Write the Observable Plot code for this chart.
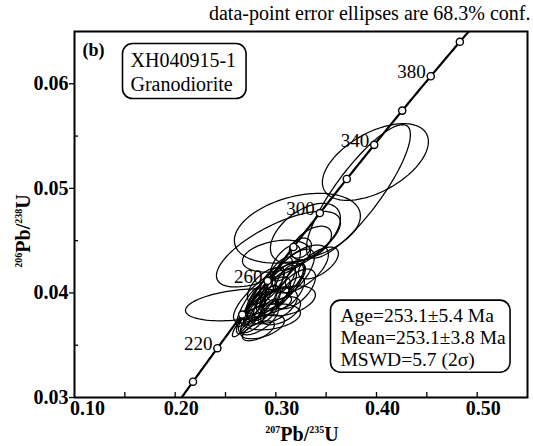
<!DOCTYPE html>
<html>
<head>
<meta charset="utf-8">
<script src="https://cdn.jsdelivr.net/npm/d3@7"></script>
<script src="https://cdn.jsdelivr.net/npm/@observablehq/plot@0.6"></script>
<style>
  body { margin: 0; background: #fff; }
</style>
</head>
<body>
<div id="chart"></div>
<script>
// Decay constants (per year) for the Wetherill concordia
const L238 = 1.55125e-10;
const L235 = 9.8485e-10;

// Concordia age marks (Ma) and the ones that carry a label
const markedAges = [200, 220, 240, 260, 280, 300, 320, 340, 360, 380, 400];
const labeledAges = [220, 260, 300, 340, 380];

// Zircon spot analyses: 207Pb/235U, 206Pb/238U, 1-sigma errors, error correlation
const spot = ["1","2","3","4","5","6","7","8","9","10","11","12","13","14","15","16","17","18","19","20",
  "21","22","23","24","25","26","27","28","29","30","31","32","33","34","35","36","37","38","39","40","41","42","43"];
const ratio207 = [0.3989, 0.3820, 0.3214, 0.3294, 0.3026, 0.2629, 0.3006, 0.3354, 0.3244, 0.3423, 0.2927,
  0.2668, 0.2748, 0.2827, 0.2867, 0.2927, 0.2966, 0.2847, 0.3006, 0.3066, 0.2897, 0.3115, 0.3145, 0.3244,
  0.2797, 0.2946, 0.2728, 0.3026, 0.3195, 0.2867, 0.3095, 0.2827, 0.3046, 0.3145, 0.2966,
  0.2797, 0.2897, 0.2996, 0.3095, 0.2768, 0.2927, 0.3195, 0.2867];
const ratio206 = [0.05252, 0.04971, 0.04619, 0.04571, 0.04419, 0.03886, 0.04352, 0.04476, 0.04429, 0.04286, 0.04000,
  0.03695, 0.03781, 0.03752, 0.03876, 0.03943, 0.03876, 0.03971, 0.04019, 0.04076, 0.04067, 0.03924, 0.04171, 0.04229,
  0.03905, 0.03771, 0.03867, 0.04171, 0.04038, 0.03676, 0.04286, 0.03638, 0.03829, 0.04000, 0.04114,
  0.03829, 0.03924, 0.03943, 0.04133, 0.03714, 0.03829, 0.04162, 0.04019];
const err207 = [0.03474, 0.03409, 0.04130, 0.02294, 0.04064, 0.03474, 0.02229, 0.01311, 0.00721, 0.01311, 0.02294,
  0.00656, 0.00918, 0.01311, 0.01180, 0.01442, 0.01639, 0.00983, 0.01311, 0.01442, 0.01180, 0.01835, 0.01573, 0.01835,
  0.00787, 0.01967, 0.00787, 0.00918, 0.01311, 0.01442, 0.00983, 0.01049, 0.01311, 0.00918, 0.00787,
  0.00656, 0.00787, 0.00918, 0.00656, 0.00787, 0.00656, 0.00656, 0.00656];
const err206 = [0.002420, 0.004212, 0.002200, 0.001886, 0.002389, 0.001006, 0.001006, 0.001069, 0.000629, 0.001006, 0.001886,
  0.000754, 0.001132, 0.001006, 0.001257, 0.001383, 0.001132, 0.001257, 0.001383, 0.001509, 0.001132, 0.000943, 0.001635, 0.001509,
  0.001383, 0.000817, 0.001257, 0.001132, 0.001257, 0.000754, 0.001132, 0.000629, 0.000880, 0.001006, 0.000880,
  0.000880, 0.001006, 0.000754, 0.000880, 0.000629, 0.000754, 0.000754, 0.000880];
const rho = [0.53, 0.85, 0.35, 0.50, 0.70, 0.35, 0.30, 0.50, 0.30, 0.60, 0.80,
  0.85, 0.80, 0.60, 0.70, 0.70, 0.50, 0.80, 0.75, 0.70, 0.60, 0.40, 0.70, 0.60,
  0.85, 0.30, 0.85, 0.70, 0.60, 0.50, 0.60, 0.60, 0.50, 0.70, 0.60,
  0.80, 0.80, 0.60, 0.70, 0.70, 0.70, 0.60, 0.80];

// Axis ticks
const xLabelTicks = [0.20, 0.30, 0.40, 0.50];
const xCornerTick = [0.10];
const xTickMarks = [0.15, 0.20, 0.25, 0.30, 0.35, 0.40, 0.45, 0.50];
const yLabelTicks = [0.03, 0.04, 0.05, 0.06];
const yMinorTicks = [0.035, 0.045, 0.055];

// Texts
const caption = "data-point error ellipses are 68.3% conf.";
const panelTag = "(b)";
const sampleLines = ["XH040915-1", "Granodiorite"];
const resultLines = ["Age=253.1±5.4 Ma", "Mean=253.1±3.8 Ma", "MSWD=5.7 (2σ)"];

// Concordia point for an age in Ma
const concordia = t => ({t, x: Math.expm1(L235 * t * 1e6), y: Math.expm1(L238 * t * 1e6)});
const curve = d3.range(180, 441, 1).map(concordia);

// 68.3% confidence ellipse outline for each analysis (2 degrees of freedom)
const K = Math.sqrt(-2 * Math.log(1 - 0.683));
const ellipsePts = spot.flatMap((id, i) => d3.range(0, 361, 4).map(a => {
  const th = a * Math.PI / 180;
  const r = rho[i];
  return {
    id,
    x: ratio207[i] + K * err207[i] * Math.cos(th),
    y: ratio206[i] + K * err206[i] * (r * Math.cos(th) + Math.sqrt(1 - r * r) * Math.sin(th))
  };
}));

const fmt = d3.format(".2f");
const tickFont = {fontSize: 20, fontWeight: "bold", label: null};

const svg = Plot.plot({
  width: 533,
  height: 446,
  marginLeft: 74,
  marginRight: 6,
  marginTop: 31,
  marginBottom: 49,
  x: {domain: [0.10, 0.55], label: null},
  y: {domain: [0.03, 0.065], label: null},
  style: {fontFamily: "'Liberation Serif', 'Times New Roman', serif", background: "#fff", color: "#000"},
  marks: [
    // concordia age labels
    Plot.text(labeledAges.map(concordia), {x: "x", y: "y", text: d => String(d.t), textAnchor: "end", dx: -5, dy: -4, fontSize: 19}),
    // error ellipses
    Plot.line(ellipsePts, {x: "x", y: "y", z: "id", stroke: "#000", strokeWidth: 1.25, curve: "linear-closed"}),
    // concordia curve and age marks
    Plot.line(curve, {x: "x", y: "y", stroke: "#000", strokeWidth: 2.2, clip: true}),
    Plot.dot(markedAges.map(concordia), {x: "x", y: "y", r: 3.6, fill: "#fff", stroke: "#000", strokeWidth: 1.4}),
    // inward ticks
    Plot.tickX(xTickMarks, {x: d => d, insetTop: 361, stroke: "#000", strokeWidth: 1.3}),
    Plot.tickY(yMinorTicks, {y: d => d, insetRight: 449, stroke: "#000", strokeWidth: 1.3}),
    // axes
    Plot.axisY(yLabelTicks, {tickSize: 5, tickPadding: 1, tickFormat: fmt, strokeWidth: 1.3, ...tickFont}),
    Plot.axisX(xLabelTicks, {tickSize: 0, tickPadding: 3, dx: 6, tickFormat: fmt, ...tickFont}),
    Plot.axisX(xCornerTick, {tickSize: 0, tickPadding: 3, dx: 13, tickFormat: fmt, ...tickFont}),
    Plot.frame({stroke: "#000", strokeWidth: 2}),
    // annotations
    Plot.text([caption], {frameAnchor: "top-right", dx: 3, dy: -18, lineAnchor: "middle", textAnchor: "end", fontSize: 20}),
    Plot.text([panelTag], {frameAnchor: "top-left", dx: 8, dy: 12, lineAnchor: "top", textAnchor: "start", fontSize: 18, fontWeight: "bold"}),
    Plot.text([sampleLines.join("\n")], {frameAnchor: "top-left", dx: 56, dy: 18, lineAnchor: "top", textAnchor: "start", fontSize: 20, lineHeight: 1.2}),
    Plot.text([resultLines.join("\n")], {frameAnchor: "top-left", dx: 266, dy: 275, lineAnchor: "top", textAnchor: "start", fontSize: 19.5, lineHeight: 1.13})
  ]
});

document.getElementById("chart").appendChild(svg);

const root = d3.select(svg);

// rounded boxes around the two annotation blocks, in the text's own frame
function boxAround(firstLine, pad) {
  const t = root.selectAll("text").filter(function() { return this.textContent.startsWith(firstLine); });
  if (t.empty()) return;
  const node = t.node();
  const b = node.getBBox();
  d3.select(node.parentNode).insert("rect", () => node)
    .attr("transform", node.getAttribute("transform"))
    .attr("x", b.x - pad.l).attr("y", b.y - pad.t)
    .attr("width", b.width + pad.l + pad.r).attr("height", b.height + pad.t + pad.b)
    .attr("rx", 10).attr("ry", 10)
    .attr("fill", "#fff").attr("stroke", "#000").attr("stroke-width", 1.6);
}
boxAround(sampleLines[0], {l: 8, r: 10, t: 5, b: 4});
boxAround(resultLines[0], {l: 10, r: 4, t: 5, b: 1});

// axis titles with superscript mass numbers
function isotopeTitle(sel, top, bottom) {
  sel.attr("font-family", "'Liberation Serif', 'Times New Roman', serif")
    .attr("font-weight", "bold").attr("font-size", 20).attr("fill", "#000")
    .attr("text-anchor", "middle");
  sel.append("tspan").attr("font-size", 10).attr("dy", -8).text(top);
  sel.append("tspan").attr("dy", 8).text("Pb/");
  sel.append("tspan").attr("font-size", 10).attr("dy", -8).text(bottom);
  sel.append("tspan").attr("dy", 8).text("U");
}
isotopeTitle(root.append("text").attr("x", 302).attr("y", 441), "207", "235");
isotopeTitle(root.append("text").attr("transform", "translate(30,231) rotate(-90)"), "206", "238");
</script>
</body>
</html>
